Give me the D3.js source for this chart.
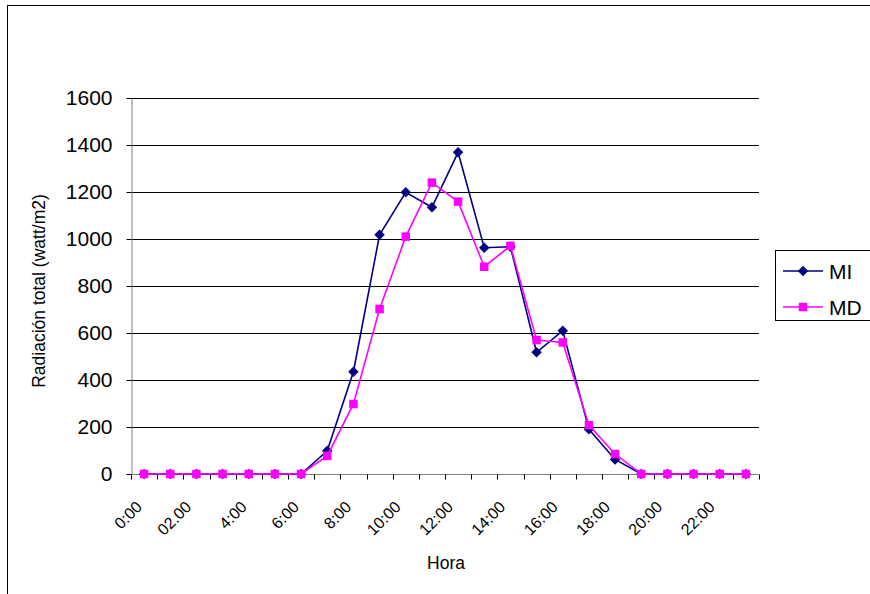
<!DOCTYPE html>
<html>
<head>
<meta charset="utf-8">
<script src="https://cdn.jsdelivr.net/npm/d3@7"></script>
<style>
  html, body { margin: 0; padding: 0; background: #fff; }
  svg { display: block; font-family: Arial, "Liberation Sans", sans-serif; }
</style>
</head>
<body>
<svg id="chart" width="870" height="594"></svg>
<script>
// Hourly categories (every other one is labelled on the axis)
const horas = ["0:00","1:00","02.00","3:00","4:00","5:00","6:00","7:00","8:00","9:00",
               "10:00","11:00","12:00","13:00","14:00","15:00","16:00","17:00","18:00",
               "19:00","20:00","21:00","22:00","23:00"];
const horasVisibles = ["0:00","02.00","4:00","6:00","8:00","10:00","12:00","14:00",
                       "16:00","18:00","20:00","22:00"];

// Total radiation (watt/m2) per hour
const valoresMI = [0,0,0,0,0,0,0,99,435,1018,1199,1135,1369,963,967,518,610,190,62,0,0,0,0,0];
const valoresMD = [0,0,0,0,0,0,0,77,298,702,1010,1240,1159,882,971,570,560,208,85,0,0,0,0,0];

const yTicks = [0,200,400,600,800,1000,1200,1400,1600];

const series = [
  { name: "MI", values: valoresMI, color: "#000080", symbol: d3.symbolDiamond2, size: 70 },
  { name: "MD", values: valoresMD, color: "#FF00FF", symbol: d3.symbolSquare, size: 72 }
];

const FONT = "Arial, 'Liberation Sans', sans-serif";
const svg = d3.select("#chart");

// outer chart frame (runs past the right and bottom edges)
svg.append("rect")
  .attr("x", 7.5).attr("y", 5.5)
  .attr("width", 900).attr("height", 620)
  .attr("fill", "none").attr("stroke", "#000").attr("stroke-width", 1);

const plotLeft = 131, plotRight = 759, plotTop = 98, plotBottom = 474;

const x = d3.scaleBand().domain(horas).range([plotLeft, plotRight]).padding(0);
const y = d3.scaleLinear().domain([0, 1600]).range([plotBottom, plotTop]);

// horizontal gridlines
svg.append("g")
  .selectAll("line")
  .data(yTicks.filter(t => t > 0))
  .join("line")
  .attr("x1", plotLeft).attr("x2", plotRight)
  .attr("y1", d => Math.round(y(d)) + 0.5).attr("y2", d => Math.round(y(d)) + 0.5)
  .attr("stroke", "#000").attr("stroke-width", 1);

// y axis
const yAxis = svg.append("g")
  .attr("transform", `translate(${plotLeft + 0.5},0)`)
  .call(d3.axisLeft(y).tickValues(yTicks).tickSize(5).tickPadding(14).tickFormat(d3.format("d")));
yAxis.attr("font-family", FONT);
yAxis.select(".domain").attr("stroke", "#808080");
yAxis.selectAll(".tick line").attr("stroke", "#000");
yAxis.selectAll(".tick text").attr("font-size", 21).attr("fill", "#000");

// x axis: ticks on category boundaries
const xAxisG = svg.append("g").attr("transform", `translate(0,${plotBottom + 0.5})`);
xAxisG.append("line")
  .attr("x1", plotLeft).attr("x2", plotRight)
  .attr("stroke", "#808080");
const bounds = horas.map(h => x(h)).concat([plotRight]);
xAxisG.selectAll("line.tk")
  .data(bounds)
  .join("line").attr("class", "tk")
  .attr("x1", d => Math.round(d) + 0.5).attr("x2", d => Math.round(d) + 0.5)
  .attr("y1", 0).attr("y2", 5)
  .attr("stroke", "#000");

// rotated hour labels
svg.append("g")
  .selectAll("text")
  .data(horasVisibles)
  .join("text")
  .attr("transform", d => `translate(${x(d) + x.bandwidth() / 2 - (d.length > 4 ? 4 : 1)},${plotBottom + 34}) rotate(-45)`)
  .attr("text-anchor", "end")
  .attr("font-size", 16)
  .attr("fill", "#000")
  .text(d => d);

// axis titles
svg.append("text")
  .attr("transform", `translate(45,${291}) rotate(-90)`)
  .attr("text-anchor", "middle")
  .attr("font-size", 17.5)
  .text("Radiación total (watt/m2)");

svg.append("text")
  .attr("x", 446).attr("y", 569)
  .attr("text-anchor", "middle")
  .attr("font-size", 17.5)
  .text("Hora");

// lines and markers
const line = d3.line()
  .x((d, i) => x(horas[i]) + x.bandwidth() / 2)
  .y(d => y(d));

series.forEach(s => {
  const g = svg.append("g");
  g.append("path")
    .attr("d", line(s.values))
    .attr("fill", "none")
    .attr("stroke", s.color)
    .attr("stroke-width", 1.6);
  g.selectAll("path.m")
    .data(s.values)
    .join("path").attr("class", "m")
    .attr("transform", (d, i) => `translate(${x(horas[i]) + x.bandwidth() / 2},${y(d)})`)
    .attr("d", d3.symbol().type(s.symbol).size(s.size))
    .attr("fill", s.color);
});

// legend
const legend = svg.append("g");
legend.append("rect")
  .attr("x", 775.5).attr("y", 250.5)
  .attr("width", 120).attr("height", 70)
  .attr("fill", "#fff").attr("stroke", "#000");
series.forEach((s, i) => {
  const ly = 271 + i * 36;
  legend.append("line")
    .attr("x1", 783).attr("x2", 823).attr("y1", ly).attr("y2", ly)
    .attr("stroke", s.color).attr("stroke-width", 1.6);
  legend.append("path")
    .attr("transform", `translate(803,${ly})`)
    .attr("d", d3.symbol().type(s.symbol).size(s.size))
    .attr("fill", s.color);
  legend.append("text")
    .attr("x", 829).attr("y", ly + 8)
    .attr("font-size", 21)
    .text(s.name);
});
</script>
</body>
</html>
